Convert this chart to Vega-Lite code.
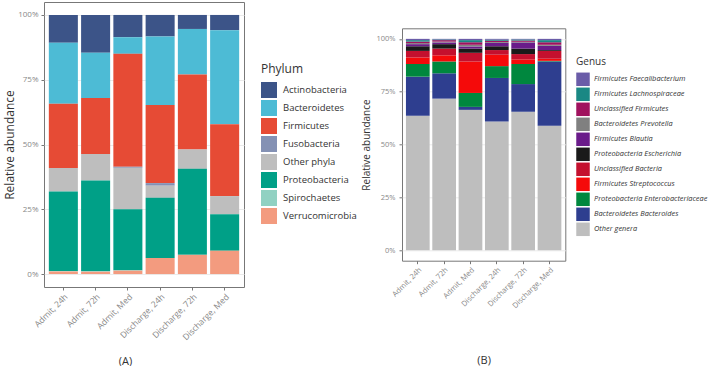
{
  "$schema": "https://vega.github.io/schema/vega-lite/v6.json",
  "padding": {"left": 3, "top": 1, "right": 0, "bottom": 0},
  "background": "white",
  "bounds": "flush",
  "center": true,
  "spacing": 158,
  "resolve": {"scale": {"color": "independent"}, "legend": {"color": "independent"}},
  "datasets": {
    "phylum": [
      {"sample": "Admit, 24h", "phylum": "Actinobacteria", "share": 0.107},
      {"sample": "Admit, 24h", "phylum": "Bacteroidetes", "share": 0.236},
      {"sample": "Admit, 24h", "phylum": "Firmicutes", "share": 0.248},
      {"sample": "Admit, 24h", "phylum": "Other phyla", "share": 0.090},
      {"sample": "Admit, 24h", "phylum": "Proteobacteria", "share": 0.307},
      {"sample": "Admit, 24h", "phylum": "Spirochaetes", "share": 0.002},
      {"sample": "Admit, 24h", "phylum": "Verrucomicrobia", "share": 0.010},
      {"sample": "Admit, 72h", "phylum": "Actinobacteria", "share": 0.146},
      {"sample": "Admit, 72h", "phylum": "Bacteroidetes", "share": 0.175},
      {"sample": "Admit, 72h", "phylum": "Firmicutes", "share": 0.216},
      {"sample": "Admit, 72h", "phylum": "Other phyla", "share": 0.102},
      {"sample": "Admit, 72h", "phylum": "Proteobacteria", "share": 0.350},
      {"sample": "Admit, 72h", "phylum": "Spirochaetes", "share": 0.002},
      {"sample": "Admit, 72h", "phylum": "Verrucomicrobia", "share": 0.009},
      {"sample": "Admit, Med", "phylum": "Actinobacteria", "share": 0.086},
      {"sample": "Admit, Med", "phylum": "Bacteroidetes", "share": 0.064},
      {"sample": "Admit, Med", "phylum": "Firmicutes", "share": 0.436},
      {"sample": "Admit, Med", "phylum": "Fusobacteria", "share": 0.004},
      {"sample": "Admit, Med", "phylum": "Other phyla", "share": 0.160},
      {"sample": "Admit, Med", "phylum": "Proteobacteria", "share": 0.235},
      {"sample": "Admit, Med", "phylum": "Spirochaetes", "share": 0.002},
      {"sample": "Admit, Med", "phylum": "Verrucomicrobia", "share": 0.013},
      {"sample": "Discharge, 24h", "phylum": "Actinobacteria", "share": 0.083},
      {"sample": "Discharge, 24h", "phylum": "Bacteroidetes", "share": 0.265},
      {"sample": "Discharge, 24h", "phylum": "Firmicutes", "share": 0.301},
      {"sample": "Discharge, 24h", "phylum": "Fusobacteria", "share": 0.010},
      {"sample": "Discharge, 24h", "phylum": "Other phyla", "share": 0.047},
      {"sample": "Discharge, 24h", "phylum": "Proteobacteria", "share": 0.232},
      {"sample": "Discharge, 24h", "phylum": "Verrucomicrobia", "share": 0.062},
      {"sample": "Discharge, 72h", "phylum": "Actinobacteria", "share": 0.054},
      {"sample": "Discharge, 72h", "phylum": "Bacteroidetes", "share": 0.176},
      {"sample": "Discharge, 72h", "phylum": "Firmicutes", "share": 0.289},
      {"sample": "Discharge, 72h", "phylum": "Other phyla", "share": 0.075},
      {"sample": "Discharge, 72h", "phylum": "Proteobacteria", "share": 0.332},
      {"sample": "Discharge, 72h", "phylum": "Verrucomicrobia", "share": 0.074},
      {"sample": "Discharge, Med", "phylum": "Actinobacteria", "share": 0.059},
      {"sample": "Discharge, Med", "phylum": "Bacteroidetes", "share": 0.363},
      {"sample": "Discharge, Med", "phylum": "Firmicutes", "share": 0.277},
      {"sample": "Discharge, Med", "phylum": "Other phyla", "share": 0.070},
      {"sample": "Discharge, Med", "phylum": "Proteobacteria", "share": 0.141},
      {"sample": "Discharge, Med", "phylum": "Verrucomicrobia", "share": 0.090}
    ],
    "genus": [
      {"sample": "Admit, 24h", "genus": "Other genera", "share": 0.636},
      {"sample": "Admit, 24h", "genus": "Bacteroidetes Bacteroides", "share": 0.185},
      {"sample": "Admit, 24h", "genus": "Proteobacteria Enterobacteriaceae", "share": 0.060},
      {"sample": "Admit, 24h", "genus": "Firmicutes Streptococcus", "share": 0.031},
      {"sample": "Admit, 24h", "genus": "Unclassified Bacteria", "share": 0.031},
      {"sample": "Admit, 24h", "genus": "Proteobacteria Escherichia", "share": 0.022},
      {"sample": "Admit, 24h", "genus": "Firmicutes Blautia", "share": 0.010},
      {"sample": "Admit, 24h", "genus": "Bacteroidetes Prevotella", "share": 0.005},
      {"sample": "Admit, 24h", "genus": "Unclassified Firmicutes", "share": 0.007},
      {"sample": "Admit, 24h", "genus": "Firmicutes Lachnospiraceae", "share": 0.007},
      {"sample": "Admit, 24h", "genus": "Firmicutes Faecalibacterium", "share": 0.006},
      {"sample": "Admit, 72h", "genus": "Other genera", "share": 0.717},
      {"sample": "Admit, 72h", "genus": "Bacteroidetes Bacteroides", "share": 0.120},
      {"sample": "Admit, 72h", "genus": "Proteobacteria Enterobacteriaceae", "share": 0.056},
      {"sample": "Admit, 72h", "genus": "Firmicutes Streptococcus", "share": 0.029},
      {"sample": "Admit, 72h", "genus": "Unclassified Bacteria", "share": 0.032},
      {"sample": "Admit, 72h", "genus": "Proteobacteria Escherichia", "share": 0.021},
      {"sample": "Admit, 72h", "genus": "Firmicutes Blautia", "share": 0.008},
      {"sample": "Admit, 72h", "genus": "Bacteroidetes Prevotella", "share": 0.004},
      {"sample": "Admit, 72h", "genus": "Unclassified Firmicutes", "share": 0.007},
      {"sample": "Admit, 72h", "genus": "Firmicutes Lachnospiraceae", "share": 0.003},
      {"sample": "Admit, 72h", "genus": "Firmicutes Faecalibacterium", "share": 0.003},
      {"sample": "Admit, Med", "genus": "Other genera", "share": 0.664},
      {"sample": "Admit, Med", "genus": "Bacteroidetes Bacteroides", "share": 0.014},
      {"sample": "Admit, Med", "genus": "Proteobacteria Enterobacteriaceae", "share": 0.066},
      {"sample": "Admit, Med", "genus": "Firmicutes Streptococcus", "share": 0.149},
      {"sample": "Admit, Med", "genus": "Unclassified Bacteria", "share": 0.041},
      {"sample": "Admit, Med", "genus": "Proteobacteria Escherichia", "share": 0.020},
      {"sample": "Admit, Med", "genus": "Firmicutes Blautia", "share": 0.010},
      {"sample": "Admit, Med", "genus": "Bacteroidetes Prevotella", "share": 0.008},
      {"sample": "Admit, Med", "genus": "Unclassified Firmicutes", "share": 0.012},
      {"sample": "Admit, Med", "genus": "Firmicutes Lachnospiraceae", "share": 0.010},
      {"sample": "Admit, Med", "genus": "Firmicutes Faecalibacterium", "share": 0.006},
      {"sample": "Discharge, 24h", "genus": "Other genera", "share": 0.609},
      {"sample": "Discharge, 24h", "genus": "Bacteroidetes Bacteroides", "share": 0.206},
      {"sample": "Discharge, 24h", "genus": "Proteobacteria Enterobacteriaceae", "share": 0.056},
      {"sample": "Discharge, 24h", "genus": "Firmicutes Streptococcus", "share": 0.054},
      {"sample": "Discharge, 24h", "genus": "Unclassified Bacteria", "share": 0.022},
      {"sample": "Discharge, 24h", "genus": "Proteobacteria Escherichia", "share": 0.018},
      {"sample": "Discharge, 24h", "genus": "Firmicutes Blautia", "share": 0.016},
      {"sample": "Discharge, 24h", "genus": "Bacteroidetes Prevotella", "share": 0.004},
      {"sample": "Discharge, 24h", "genus": "Unclassified Firmicutes", "share": 0.006},
      {"sample": "Discharge, 24h", "genus": "Firmicutes Lachnospiraceae", "share": 0.005},
      {"sample": "Discharge, 24h", "genus": "Firmicutes Faecalibacterium", "share": 0.004},
      {"sample": "Discharge, 72h", "genus": "Other genera", "share": 0.655},
      {"sample": "Discharge, 72h", "genus": "Bacteroidetes Bacteroides", "share": 0.131},
      {"sample": "Discharge, 72h", "genus": "Proteobacteria Enterobacteriaceae", "share": 0.095},
      {"sample": "Discharge, 72h", "genus": "Firmicutes Streptococcus", "share": 0.022},
      {"sample": "Discharge, 72h", "genus": "Unclassified Bacteria", "share": 0.025},
      {"sample": "Discharge, 72h", "genus": "Proteobacteria Escherichia", "share": 0.026},
      {"sample": "Discharge, 72h", "genus": "Firmicutes Blautia", "share": 0.029},
      {"sample": "Discharge, 72h", "genus": "Bacteroidetes Prevotella", "share": 0.003},
      {"sample": "Discharge, 72h", "genus": "Unclassified Firmicutes", "share": 0.006},
      {"sample": "Discharge, 72h", "genus": "Firmicutes Lachnospiraceae", "share": 0.005},
      {"sample": "Discharge, 72h", "genus": "Firmicutes Faecalibacterium", "share": 0.003},
      {"sample": "Discharge, Med", "genus": "Other genera", "share": 0.589},
      {"sample": "Discharge, Med", "genus": "Bacteroidetes Bacteroides", "share": 0.304},
      {"sample": "Discharge, Med", "genus": "Proteobacteria Enterobacteriaceae", "share": 0.003},
      {"sample": "Discharge, Med", "genus": "Firmicutes Streptococcus", "share": 0.010},
      {"sample": "Discharge, Med", "genus": "Unclassified Bacteria", "share": 0.037},
      {"sample": "Discharge, Med", "genus": "Proteobacteria Escherichia", "share": 0.004},
      {"sample": "Discharge, Med", "genus": "Firmicutes Blautia", "share": 0.020},
      {"sample": "Discharge, Med", "genus": "Bacteroidetes Prevotella", "share": 0.005},
      {"sample": "Discharge, Med", "genus": "Unclassified Firmicutes", "share": 0.012},
      {"sample": "Discharge, Med", "genus": "Firmicutes Lachnospiraceae", "share": 0.010},
      {"sample": "Discharge, Med", "genus": "Firmicutes Faecalibacterium", "share": 0.006}
    ]
  },
  "hconcat": [
    {
      "data": {"name": "phylum"},
      "width": 200,
      "height": 285,
      "mark": {"type": "bar"},
      "encoding": {
        "x": {
          "field": "sample", "type": "nominal",
          "sort": ["Admit, 24h", "Admit, 72h", "Admit, Med", "Discharge, 24h", "Discharge, 72h", "Discharge, Med"],
          "scale": {"paddingInner": 0.1, "paddingOuter": 0.15},
          "axis": {"title": "(A)", "labelAngle": -45, "labelFontSize": 8.5, "titleX": 81, "titleY": 74, "titleBaseline": "middle", "titleFontSize": 11}
        },
        "y": {
          "field": "share", "type": "quantitative", "stack": "zero",
          "scale": {"domain": [-0.05, 1.05], "nice": false, "zero": false},
          "axis": {"title": "Relative abundance", "values": [0, 0.25, 0.5, 0.75, 1], "format": ".0%", "labelFontSize": 8, "titleFontSize": 12, "titlePadding": 1, "labelPadding": 3}
        },
        "color": {
          "field": "phylum", "type": "nominal",
          "scale": {
            "domain": ["Actinobacteria", "Bacteroidetes", "Firmicutes", "Fusobacteria", "Other phyla", "Proteobacteria", "Spirochaetes", "Verrucomicrobia"],
            "range": ["#3C5488", "#4DBBD5", "#E64B35", "#8491B4", "#BEBEBE", "#00A087", "#91D1C2", "#F39B7F"]
          },
          "legend": {
            "title": "Phylum", "orient": "none", "legendX": 217, "legendY": 62,
            "titleFontSize": 12, "labelFontSize": 9.5, "symbolSize": 256, "rowPadding": 2, "labelOffset": 6, "titlePadding": 6
          }
        },
        "order": {"field": "phylum", "sort": "descending"}
      }
    },
    {
      "data": {"name": "genus"},
      "transform": [
        {"calculate": "indexof(['Firmicutes Faecalibacterium', 'Firmicutes Lachnospiraceae', 'Unclassified Firmicutes', 'Bacteroidetes Prevotella', 'Firmicutes Blautia', 'Proteobacteria Escherichia', 'Unclassified Bacteria', 'Firmicutes Streptococcus', 'Proteobacteria Enterobacteriaceae', 'Bacteroidetes Bacteroides', 'Other genera'], datum.genus)", "as": "stackrank"}
      ],
      "width": 163.3,
      "height": 232.4,
      "mark": {"type": "bar"},
      "encoding": {
        "x": {
          "field": "sample", "type": "nominal",
          "sort": ["Admit, 24h", "Admit, 72h", "Admit, Med", "Discharge, 24h", "Discharge, 72h", "Discharge, Med"],
          "scale": {"paddingInner": 0.1, "paddingOuter": 0.15},
          "axis": {"title": "(B)", "labelAngle": -45, "labelFontSize": 7.5, "titleY": 100, "titleBaseline": "middle", "titleFontSize": 11}
        },
        "y": {
          "field": "share", "type": "quantitative", "stack": "zero",
          "scale": {"domain": [-0.05, 1.05], "nice": false, "zero": false},
          "axis": {"title": "Relative abundance", "values": [0, 0.25, 0.5, 0.75, 1], "format": ".0%", "labelFontSize": 7.5, "titleFontSize": 10, "titlePadding": 4, "labelPadding": 4}
        },
        "color": {
          "field": "genus", "type": "nominal",
          "scale": {
            "domain": ["Firmicutes Faecalibacterium", "Firmicutes Lachnospiraceae", "Unclassified Firmicutes", "Bacteroidetes Prevotella", "Firmicutes Blautia", "Proteobacteria Escherichia", "Unclassified Bacteria", "Firmicutes Streptococcus", "Proteobacteria Enterobacteriaceae", "Bacteroidetes Bacteroides", "Other genera"],
            "range": ["#6A5CA8", "#1A8884", "#A0125E", "#808080", "#6A1B8A", "#1A1A1A", "#C4102E", "#F50A0A", "#00873E", "#2E3E8F", "#BEBEBE"]
          },
          "legend": {
            "title": "Genus", "orient": "none", "legendX": 174, "legendY": 29,
            "titleFontSize": 10, "labelFontSize": 7.4, "labelFontStyle": "italic", "symbolSize": 182, "rowPadding": 1, "labelOffset": 4, "titlePadding": 5
          }
        },
        "order": {"field": "stackrank", "sort": "descending"}
      }
    }
  ],
  "config": {
    "font": "Open Sans",
    "view": {"stroke": "#777", "strokeWidth": 1},
    "axis": {
      "labelColor": "#888", "labelFont": "Open Sans", "titleFont": "Open Sans",
      "titleFontWeight": "normal", "titleColor": "#333", "tickColor": "#777",
      "tickSize": 3, "gridColor": "#ebebeb", "domain": false
    },
    "legend": {
      "symbolType": "square", "symbolStrokeWidth": 0, "labelColor": "#333",
      "titleColor": "#333", "titleFontWeight": "normal", "labelFont": "Open Sans", "titleFont": "Open Sans"
    }
  }
}
